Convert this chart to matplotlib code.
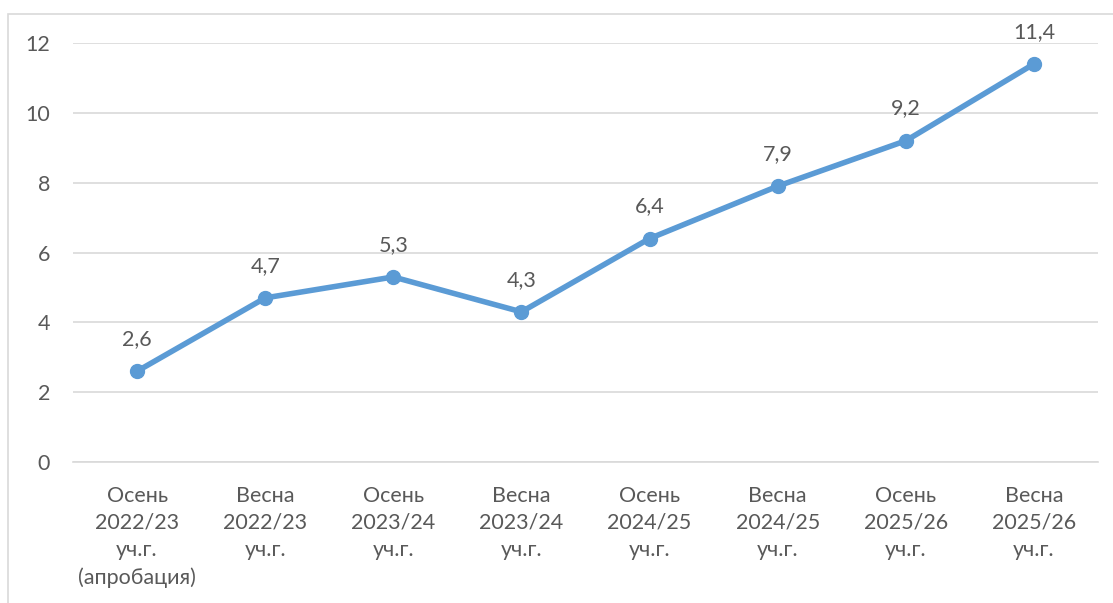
import matplotlib.pyplot as plt
from matplotlib.patches import Rectangle

# data
categories = [
    "Осень\n2022/23\nуч.г.\n(апробация)",
    "Весна\n2022/23\nуч.г.",
    "Осень\n2023/24\nуч.г.",
    "Весна\n2023/24\nуч.г.",
    "Осень\n2024/25\nуч.г.",
    "Весна\n2024/25\nуч.г.",
    "Осень\n2025/26\nуч.г.",
    "Весна\n2025/26\nуч.г.",
]
values = [2.6, 4.7, 5.3, 4.3, 6.4, 7.9, 9.2, 11.4]
yticks = [0, 2, 4, 6, 8, 10, 12]

line_color = '#5B9BD5'
text_color = '#595959'
grid_color = '#D9D9D9'

plt.rcParams['font.family'] = ['Lato', 'DejaVu Sans']

fig = plt.figure(figsize=(11.13, 6.03), dpi=100)
ax = fig.add_axes([0.0656, 0.2338, 0.9209, 0.6949])

# chart frame (cut by the image edge on right and bottom)
fig.patches.append(Rectangle((8 / 1113, -0.1), 1.2, 1 - 14 / 603 + 0.1,
                             transform=fig.transFigure, fill=False,
                             edgecolor=grid_color, linewidth=1.2))

x = list(range(len(values)))
ax.plot(x, values, color=line_color, linewidth=4, marker='o',
        markersize=10, solid_capstyle='round', zorder=3)

for xi, v in zip(x, values):
    ax.annotate(f"{v:.1f}".replace('.', ','), (xi, v), xytext=(0, 16),
                textcoords='offset points', ha='center', va='bottom',
                fontsize=15.5, color=text_color)

ax.set_xlim(-0.5, len(values) - 0.5)
ax.set_ylim(0, 12)
ax.set_yticks(yticks)
ax.set_xticks(x)
ax.set_xticklabels(categories, linespacing=1.45)

ax.grid(axis='y', color=grid_color, linewidth=1.2)
ax.set_axisbelow(True)
for s in ['top', 'right', 'left']:
    ax.spines[s].set_visible(False)
ax.spines['bottom'].set_color(grid_color)
ax.spines['bottom'].set_linewidth(1.2)

ax.tick_params(axis='both', length=0, labelsize=15.5, colors=text_color)
ax.tick_params(axis='x', pad=17)
ax.tick_params(axis='y', pad=16.5)

fig.savefig('out.png', dpi=100)
